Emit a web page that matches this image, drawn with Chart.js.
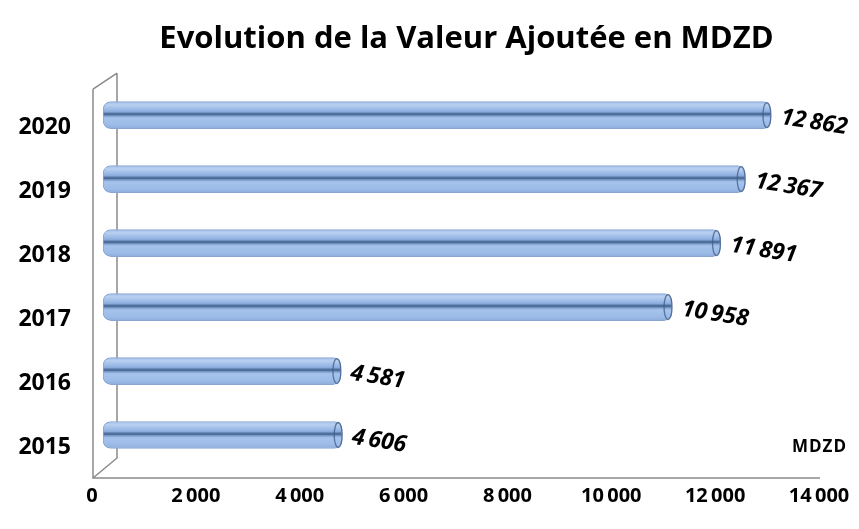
<!DOCTYPE html>
<html><head><meta charset="utf-8">
<script src="https://cdn.jsdelivr.net/npm/chart.js@4.4.1/dist/chart.umd.min.js"></script>
<style>html,body{margin:0;padding:0;background:#fff}#wrap{width:859px;height:529px}</style>
</head><body><div id="wrap"><canvas id="c" width="859" height="529"></canvas></div>
<script>
const titleText = 'Evolution de la Valeur Ajoutée en MDZD';
const years = ['2020', '2019', '2018', '2017', '2016', '2015'];
const values = [12862, 12367, 11891, 10958, 4581, 4606];
const xTicks = [0, 2000, 4000, 6000, 8000, 10000, 12000, 14000];
const unitLabel = 'MDZD';

const FONT = '"Open Sans", "DejaVu Sans", sans-serif';
const fmt = v => String(v).replace(/\B(?=(\d{3})+(?!\d))/g, '\u2009');
const BAR_H = 27;

function barGradient(ctx) {
  const chart = ctx.chart;
  if (!chart.chartArea) return '#9dbbe5';
  const c = chart.scales.y.getPixelForValue(ctx.dataIndex);
  const t = c - BAR_H / 2, b = c + BAR_H / 2;
  const g = chart.ctx.createLinearGradient(0, t, 0, b);
  g.addColorStop(0, '#a2bee6');
  g.addColorStop(0.12, '#b9d0f0');
  g.addColorStop(0.3, '#98b8e6');
  g.addColorStop(0.38, '#88a9da');
  g.addColorStop(0.42, '#5b7cab');
  g.addColorStop(0.47, '#44648f');
  g.addColorStop(0.52, '#7898c6');
  g.addColorStop(0.6, '#a5c3ec');
  g.addColorStop(0.85, '#9cbbe7');
  g.addColorStop(1, '#8eaddb');
  return g;
}

const decor = {
  id: 'decor',
  beforeDatasetsDraw(chart) {
    const { ctx, chartArea: a } = chart;
    ctx.save();
    ctx.strokeStyle = '#8a8a8a';
    ctx.lineWidth = 1.5;
    const back = a.left + 14, front = a.left - 10;
    ctx.beginPath();
    ctx.moveTo(back, a.top - 10); ctx.lineTo(back, a.bottom - 9);
    ctx.lineTo(front, a.bottom + 11);
    ctx.moveTo(front, a.top + 6); ctx.lineTo(back, a.top - 10);
    ctx.moveTo(front, a.top + 6); ctx.lineTo(front, a.bottom + 11);
    ctx.lineTo(a.right - 10, a.bottom + 11);
    ctx.stroke();
    ctx.restore();
  },
  afterDatasetsDraw(chart) {
    const { ctx } = chart;
    const meta = chart.getDatasetMeta(0);
    ctx.save();
    meta.data.forEach((bar, i) => {
      ctx.beginPath();
      ctx.ellipse(bar.x - 4, bar.y, 4, BAR_H / 2 - 1, 0, 0, Math.PI * 2);
      ctx.strokeStyle = 'rgba(60,90,135,0.75)';
      ctx.lineWidth = 1.3;
      ctx.stroke();
      ctx.save();
      ctx.translate(bar.x + 10, bar.y + 2);
      ctx.rotate(9 * Math.PI / 180);
      ctx.font = 'italic bold 23px ' + FONT;
      ctx.fillStyle = '#000';
      ctx.textAlign = 'left';
      ctx.textBaseline = 'middle';
      ctx.fillText(fmt(values[i]), 0, 0);
      ctx.restore();
    });
    ctx.font = 'bold 17px ' + FONT;
    ctx.fillStyle = '#000';
    ctx.textAlign = 'right';
    ctx.textBaseline = 'middle';
    try { ctx.letterSpacing = '1px'; } catch (e) {}
    ctx.fillText(unitLabel, 847, 447);
    ctx.restore();
  }
};

new Chart(document.getElementById('c'), {
  type: 'bar',
  data: {
    labels: years,
    datasets: [{
      data: values,
      backgroundColor: barGradient,
      borderColor: '#8aa6d0',
      borderWidth: 1,
      borderRadius: 8,
      borderSkipped: false,
      barThickness: BAR_H
    }]
  },
  options: {
    indexAxis: 'y',
    responsive: false,
    animation: false,
    layout: { padding: { left: 0, right: 29, top: 0, bottom: 0 } },
    plugins: {
      legend: { display: false },
      tooltip: { enabled: false },
      title: {
        display: true,
        fullSize: false,
        text: titleText,
        color: '#000',
        font: { family: FONT, size: 31, weight: 'bold' },
        padding: { top: 21, bottom: 25 }
      }
    },
    scales: {
      x: {
        min: 0, max: 14000,
        afterBuildTicks: s => { s.ticks = xTicks.map(v => ({ value: v })); },
        afterFit: s => { s.height = 62; s.paddingLeft = 0; s.paddingRight = 0; },
        grid: { display: false, drawTicks: false },
        border: { display: false },
        ticks: {
          color: '#000',
          padding: 17,
          labelOffset: -11,
          font: { family: FONT, size: 20, weight: 'bold' },
          callback: v => fmt(v)
        }
      },
      y: {
        afterFit: s => { s.width = 103; s.paddingTop = 0; s.paddingBottom = 0; },
        grid: { display: false, drawTicks: false },
        border: { display: false },
        ticks: {
          color: '#000',
          padding: 32,
          labelOffset: 12,
          font: { family: FONT, size: 23, weight: 'bold' }
        }
      }
    }
  },
  plugins: [decor]
});
</script>
</body></html>
